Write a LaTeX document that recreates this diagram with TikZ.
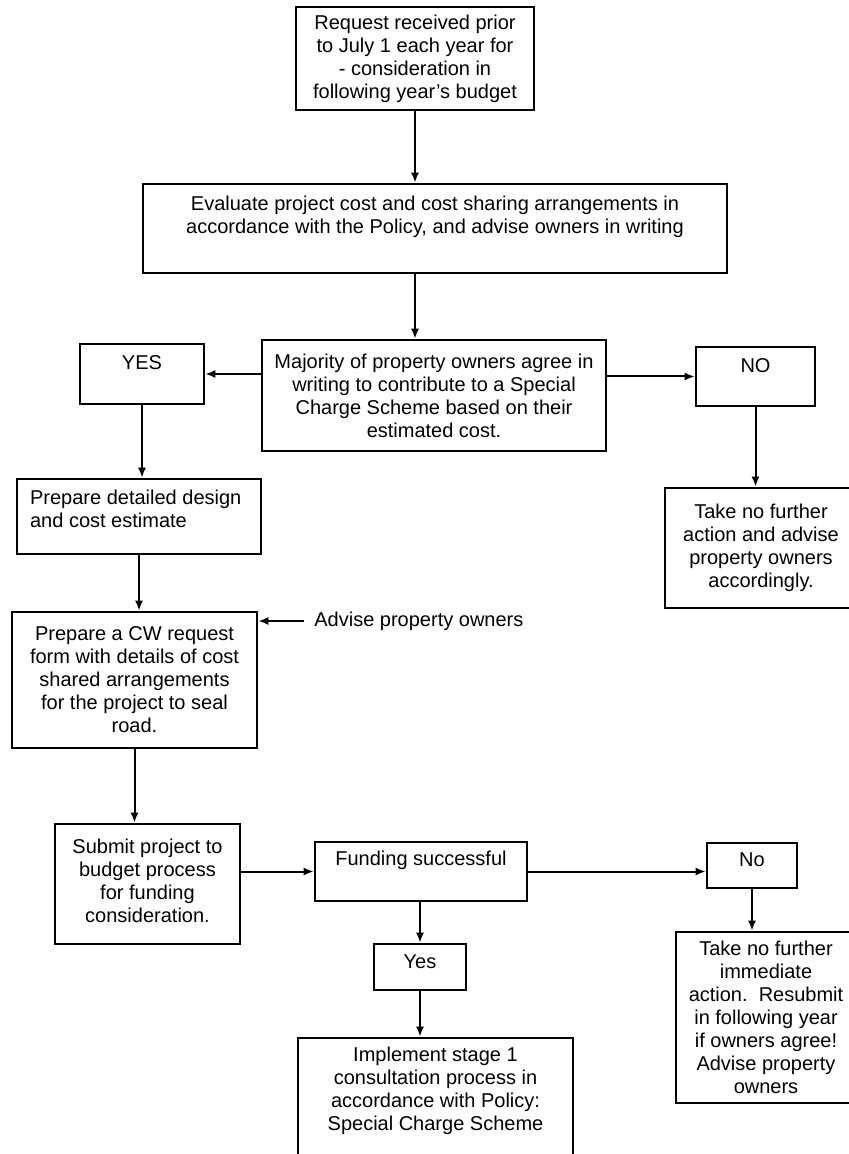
\documentclass[tikz,border=0pt]{standalone}
\usepackage{fontspec}
\setmainfont{Liberation Sans}
\usetikzlibrary{arrows.meta, positioning}

\begin{document}
\begin{tikzpicture}[
    x=0.5pt, y=-0.5pt,
    box/.style={rectangle, draw=black, line width=1.3pt, inner sep=0pt,
                align=center, font=\fontsize{10}{11.5}\selectfont},
    txt/.style={inner sep=0pt, align=center, font=\fontsize{10}{11.5}\selectfont},
    arrow/.style={-{Latex[length=5pt, width=4pt]}, line width=1pt}
]
\useasboundingbox (0,0) rectangle (849,1154);

\node[box, minimum width=119pt, minimum height=51.5pt] (req) at (415,58.5)
    {Request received prior\\to July 1 each year for\\- consideration in\\following year's budget};

\node[box, minimum width=292pt, minimum height=44.5pt] (eval) at (435,228.5) {};
\node[txt, below=6.5pt of eval.north] (evaltxt)
    {Evaluate project cost and cost sharing arrangements in\\accordance with the Policy, and advise owners in writing};

\node[box, minimum width=172pt, minimum height=55.5pt] (maj) at (434,395.5)
    {Majority of property owners agree in\\writing to contribute to a Special\\Charge Scheme based on their\\estimated cost.};

\node[box, minimum width=62pt, minimum height=30pt] (yes1) at (142,374) {};
\node[txt, below=6pt of yes1.north] (yes1txt) {YES};
\node[box, minimum width=59.5pt, minimum height=29.5pt] (no1) at (755.5,376.5) {};
\node[txt, below=6pt of no1.north] (no1txt) {NO};

\node[box, minimum width=122pt, minimum height=37.5pt] (design) at (139,516.5) {};
\node[txt, align=left, below right=6pt and 7pt of design.north west] (designtxt)
    {Prepare detailed design\\and cost estimate};
\node[box, minimum width=96pt, minimum height=60pt] (noact) at (761,548)
    {Take no further\\action and advise\\property owners\\accordingly.};

\node[box, minimum width=122.5pt, minimum height=68pt] (cw) at (134.5,680)
    {Prepare a CW request\\form with details of cost\\shared arrangements\\for the project to seal\\road.};
\node[txt, inner sep=5pt, anchor=west] (adv) at (304,621) {Advise property owners};

\node[box, minimum width=92.5pt, minimum height=60pt] (submit) at (147.5,884) {};
\node[txt, below=8pt of submit.north] (submittxt)
    {Submit project to\\budget process\\for funding\\consideration.};
\node[box, minimum width=106pt, minimum height=29.5pt] (fund) at (421,871.5) {};
\node[txt, below=5pt of fund.north] (fundtxt) {Funding successful};
\node[box, minimum width=45pt, minimum height=22.5pt] (no2) at (752,865.5) {};
\node[txt, below=5.5pt of no2.north] (no2txt) {No};
\node[box, minimum width=46pt, minimum height=23pt] (yes2) at (420,967) {};
\node[txt, below=6pt of yes2.north] (yes2txt) {Yes};

\node[box, minimum width=137.5pt, minimum height=70pt] (impl) at (435.5,1108) {};
\node[txt, below=5pt of impl.north] (impltxt)
    {Implement stage 1\\consultation process in\\accordance with Policy:\\Special Charge Scheme};
\node[box, minimum width=90pt, minimum height=85.5pt] (resub) at (766,1017.5)
    {Take no further\\immediate\\action.\ \ Resubmit\\in following year\\if owners agree!\\Advise property\\owners};

% connectors
\draw[arrow] (req.south) -- (req.south |- eval.north);
\draw[arrow] (req.south |- eval.south) -- (req.south |- maj.north);
\draw[arrow] (maj.west |- yes1.east) -- (yes1.east);
\draw[arrow] (maj.east |- no1.west) -- (no1.west);
\draw[arrow] (yes1.south) -- (yes1.south |- design.north);
\draw[arrow] (no1.south) -- (no1.south |- noact.north);
\draw[arrow] (design.south) -- (design.south |- cw.north);
\draw[arrow] (adv.west) -- (cw.east |- adv.west);
\draw[arrow] (cw.south) -- (cw.south |- submit.north);
\draw[arrow] (submit.east |- fund.west) -- (fund.west);
\draw[arrow] (fund.east) -- (fund.east -| no2.west);
\draw[arrow] (yes2.north |- fund.south) -- (yes2.north);
\draw[arrow] (yes2.south) -- (yes2.south |- impl.north);
\draw[arrow] (no2.south) -- (no2.south |- resub.north);

\end{tikzpicture}
\end{document}
